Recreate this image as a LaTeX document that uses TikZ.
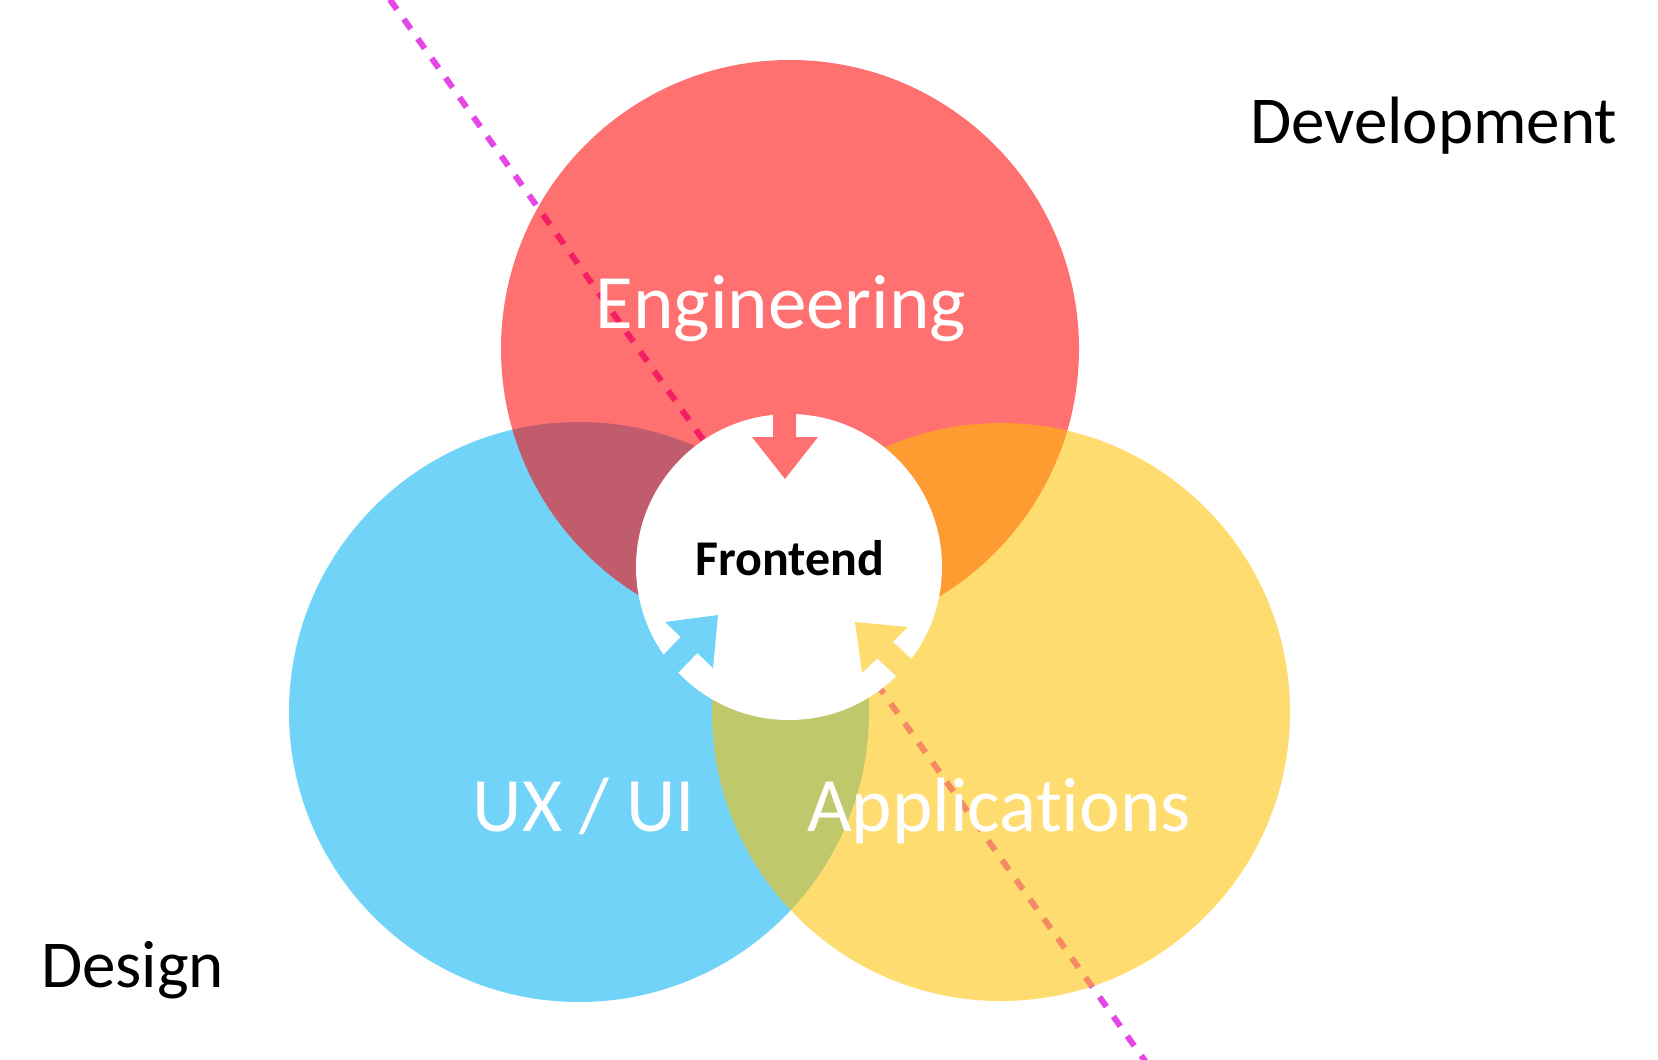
\documentclass[tikz,border=0pt]{standalone}
\usepackage{fontspec}
\setmainfont{Carlito}[RawFeature={-liga;-clig;-dlig}]
\definecolor{redC}{RGB}{255,0,0}
\definecolor{blueC}{RGB}{0,176,240}
\definecolor{yellowC}{RGB}{255,192,0}
\definecolor{lineC}{RGB}{230,70,230}
\colorlet{redL}{redC!56!white}
\colorlet{blueL}{blueC!56!white}
\colorlet{yellowL}{yellowC!56!white}
\tikzset{
  disc/.style={fill opacity=0.56},
  bigtext/.style={inner sep=0pt, anchor=base, text=white, font=\fontsize{77}{90}\selectfont},
  sidetext/.style={inner sep=0pt, anchor=base west, text=black, font=\fontsize{67}{80}\selectfont},
  divider/.style={draw=lineC, line width=6pt, dash pattern=on 12pt off 12pt}
}
\begin{document}
\begin{tikzpicture}[x=1pt,y=-1pt]
\useasboundingbox (0,0) rectangle (1658,1060);
\begin{scope}
\clip (0,0) rectangle (1658,1060);
\coordinate (ltop) at (376,-20);
\coordinate (lbot) at (1155,1075);
\draw[divider] (ltop) -- (lbot);
\end{scope}
% circles
\fill[blueC, disc] (579,712) circle[radius=290pt];
\fill[redC, disc] (790,349) circle[radius=289pt];
\fill[yellowC, disc] (1001,712) circle[radius=289pt];
\fill[white] (789,567) circle[radius=153pt];
% arrows
\fill[redL] (773,398) -- (773,437) -- (752,437) -- (785,479) -- (818,437) -- (796,437) -- (796,398) -- cycle;
\fill[blueL] (718,615) -- (665,622) -- (680.7,637.0) -- (642.5,676.5) -- (659.1,692.5) -- (697.3,653.0) -- (713,668) -- cycle;
\fill[yellowL] (855,622) -- (908,627) -- (892.8,641.6) -- (933.0,679.1) -- (917.4,695.9) -- (877.2,658.4) -- (862,673) -- cycle;
% texts
\node[bigtext] (eng) at (781,328) {Engineering};
\node[bigtext] (ux) at (584,831) {UX / UI};
\node[bigtext] (app) at (999,831) {Applicat\kern0pt ions};
\node[inner sep=0pt, anchor=base, font=\bfseries\fontsize{50}{60}\selectfont] (fe) at (790,575) {Frontend};
\node[sidetext] (dev) at (1250,143) {Development};
\node[sidetext] (des) at (41,987) {Design};
\end{tikzpicture}
\end{document}
